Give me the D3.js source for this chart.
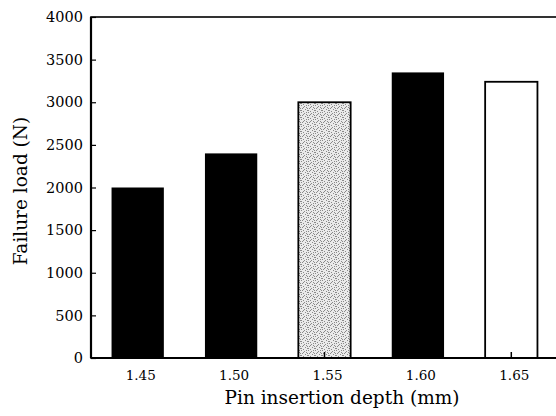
<!DOCTYPE html>
<html>
<head>
<meta charset="utf-8">
<script src="https://cdn.jsdelivr.net/npm/d3@7"></script>
<style>
  body { margin: 0; background: #fff; }
  svg { display: block; }
</style>
</head>
<body>
<svg id="chart" width="556" height="416"></svg>
<script>
// data
var depths = ["1.45", "1.50", "1.55", "1.60", "1.65"];
var loads = [2000, 2400, 3000, 3350, 3240];
var yTicks = [0, 500, 1000, 1500, 2000, 2500, 3000, 3500, 4000];
var fills = ["black", "black", "dots", "black", "white"];

var svg = d3.select("#chart");
var FONT = "DejaVu Serif";

// plot edges (note: "top" is taken by window.top)
var PL = 91, PR = 558, PT = 17, PB = 358;

var x = d3.scaleBand().domain(depths).range([PL, PR]).paddingInner(0.44).paddingOuter(0.22);
var y = d3.scaleLinear().domain([0, 4000]).range([PB, PT]);

// stipple pattern for the grey bar
var defs = svg.append("defs");
var pat = defs.append("pattern")
    .attr("id", "dots")
    .attr("width", 7).attr("height", 7)
    .attr("patternUnits", "userSpaceOnUse");
pat.append("rect").attr("width", 7).attr("height", 7).attr("fill", "#eaeaea");
[[0, 0], [3, 1], [5, 2], [1, 3], [4, 4], [6, 5], [2, 6], [0, 5], [5, 0], [2, 2], [6, 3]].forEach(function(p) {
    pat.append("rect").attr("x", p[0]).attr("y", p[1]).attr("width", 1).attr("height", 1).attr("fill", "#8a8a8a");
});

// bars
svg.selectAll("rect.bar")
    .data(loads)
    .enter().append("rect")
    .attr("class", "bar")
    .attr("x", function(d, i) { return x(depths[i]); })
    .attr("y", function(d) { return y(d); })
    .attr("width", x.bandwidth())
    .attr("height", function(d) { return PB - y(d); })
    .attr("fill", function(d, i) { return fills[i] == "dots" ? "url(#dots)" : fills[i]; })
    .attr("stroke", "black")
    .attr("stroke-width", function(d, i) { return fills[i] == "black" ? 0 : 1.8; });

// frame
svg.append("rect")
    .attr("x", PL).attr("y", PT)
    .attr("width", PR - PL).attr("height", PB - PT)
    .attr("fill", "none").attr("stroke", "black").attr("stroke-width", 1.6);
svg.append("line").attr("x1", PL).attr("x2", PL).attr("y1", PT).attr("y2", PB)
    .attr("stroke", "black").attr("stroke-width", 2.2);
svg.append("line").attr("x1", PL).attr("x2", PR).attr("y1", PB).attr("y2", PB)
    .attr("stroke", "black").attr("stroke-width", 2.2);

// y axis, inward ticks
var yAxis = svg.append("g")
    .attr("transform", "translate(" + PL + ",0)")
    .call(d3.axisRight(y).tickValues(yTicks).tickSize(5).tickFormat(""));
yAxis.select(".domain").remove();
yAxis.selectAll("line").attr("stroke-width", 1.2);

svg.selectAll("text.ytick")
    .data(yTicks)
    .enter().append("text")
    .attr("class", "ytick")
    .attr("x", 83)
    .attr("y", function(d) { return y(d); })
    .attr("dy", "0.36em")
    .attr("text-anchor", "end")
    .attr("font-family", FONT)
    .attr("font-size", 14.5)
    .text(function(d) { return d; });

// x axis, inward ticks
var xAxis = svg.append("g")
    .attr("transform", "translate(0," + PB + ")")
    .call(d3.axisTop(x).tickSize(6).tickFormat(""));
xAxis.select(".domain").remove();
xAxis.selectAll("line").attr("stroke-width", 1.5);

svg.selectAll("text.xtick")
    .data(depths)
    .enter().append("text")
    .attr("class", "xtick")
    .attr("x", function(d) { return x(d) + x.bandwidth() / 2 + 3; })
    .attr("y", 380)
    .attr("text-anchor", "middle")
    .attr("font-family", FONT)
    .attr("font-size", 13.5)
    .text(function(d) { return d; });

// axis titles
svg.append("text")
    .attr("x", 342).attr("y", 404)
    .attr("text-anchor", "middle")
    .attr("font-family", FONT)
    .attr("font-size", 18.5)
    .text("Pin insertion depth (mm)");

svg.append("text")
    .attr("transform", "translate(27,191) rotate(-90)")
    .attr("text-anchor", "middle")
    .attr("font-family", FONT)
    .attr("font-size", 18.5)
    .text("Failure load (N)");
</script>
</body>
</html>
